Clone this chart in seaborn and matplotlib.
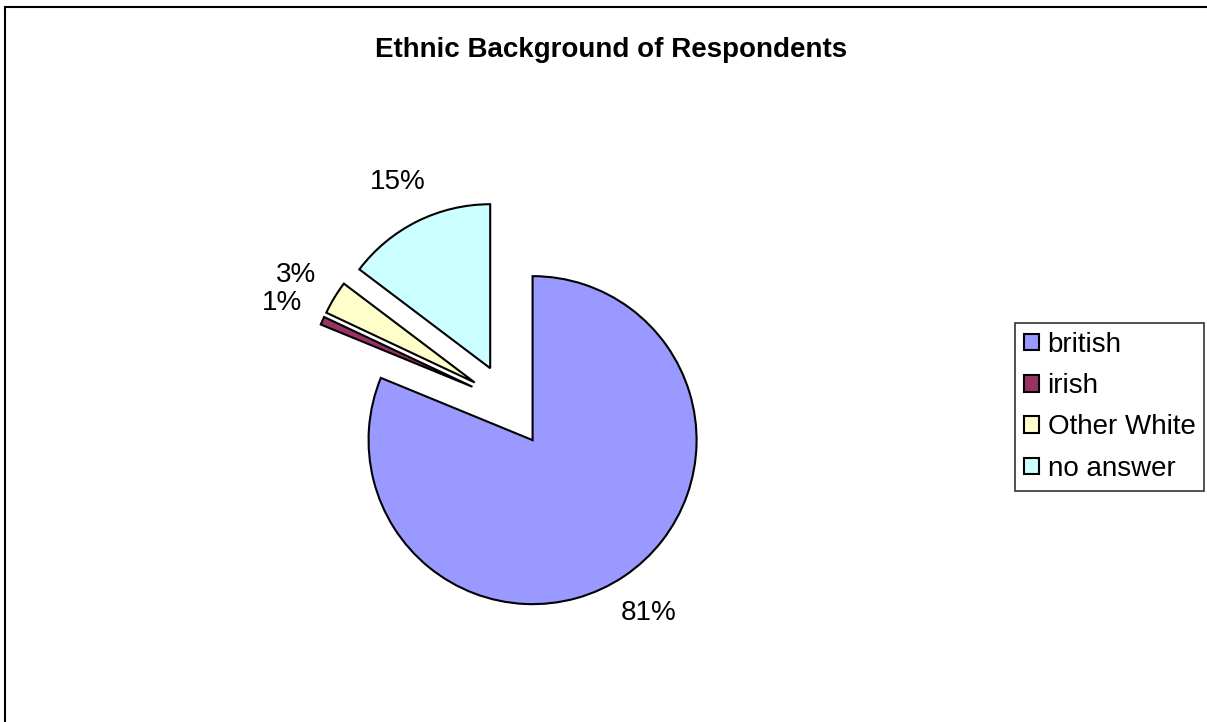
import matplotlib
matplotlib.use("Agg")
import matplotlib.pyplot as plt
import matplotlib.patches as mpatches
import seaborn as sns

# data
categories = ["british", "irish", "Other White", "no answer"]
shares = [81.2, 0.8, 3.3, 14.7]
colors = ["#9999FF", "#993366", "#FFFFCC", "#CCFFFF"]
explode = [0.28, 0.23, 0.23, 0.23]  # as a fraction of the radius

sns.set_theme(style="white")
plt.rcParams['font.family'] = ['Liberation Sans', 'DejaVu Sans']
plt.rcParams['text.color'] = 'black'

W, H = 1207, 722
R = 164
fig = plt.figure(figsize=(W / 100, H / 100), dpi=100)
fig.patch.set_facecolor("white")

# axes in pixel units so the pie sits where it does in the original
ax = fig.add_axes([0, 0, 1, 1])

wedges, texts, autotexts = ax.pie(
    shares,
    colors=colors,
    explode=[e * R for e in explode],
    center=(507, H - 402),
    radius=R,
    startangle=90,
    counterclock=False,
    autopct="%1.0f%%",
    pctdistance=1.27,
    wedgeprops=dict(edgecolor="black", linewidth=1.5),
    textprops=dict(fontsize=20, color="black"),
    frame=True,
)
ax.set_xlim(0, W)
ax.set_ylim(0, H)
ax.set_aspect("equal")
ax.axis("off")

fig.text(611 / W, 1 - 50 / H, "Ethnic Background of Respondents",
         ha="center", va="center", fontsize=20, fontweight="bold", color="black")

handles = [mpatches.Patch(facecolor=c, edgecolor="black", linewidth=1.5) for c in colors]
leg = fig.legend(handles, categories, loc="upper left",
                 bbox_to_anchor=(1015 / W, 1 - 323 / H),
                 fontsize=20, frameon=True, fancybox=False, shadow=False,
                 handlelength=0.55, handleheight=0.55, handletextpad=0.3,
                 labelspacing=0.55, borderpad=0.32, borderaxespad=0)
leg.get_frame().set_edgecolor("black")
leg.get_frame().set_linewidth(1.2)
for t in leg.get_texts():
    t.set_color("black")

# outer chart border (runs off the right and bottom edges)
fig.patches.append(mpatches.Rectangle((4.5 / W, -0.1), 1.2, 1.1 - 6.5 / H,
                                      transform=fig.transFigure, fill=False,
                                      edgecolor="black", linewidth=1.5))

fig.savefig("out.png", dpi=100)
